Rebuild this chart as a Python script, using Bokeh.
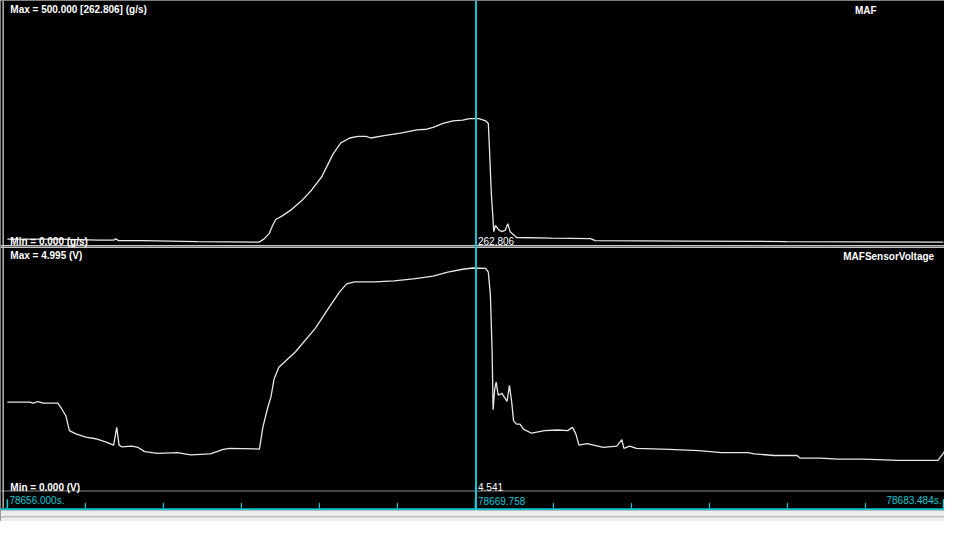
import numpy as np
from bokeh.plotting import figure
from bokeh.models import Range1d, Span, BoxAnnotation, Label
from bokeh.embed import file_html
from bokeh.resources import INLINE

# ---------------- data ----------------
T_START = 78656.000
T_END = 78683.484
T_CURSOR = 78669.758

MAF_MAX = 500.000
MAF_MIN = 0.000
MAF_AT_CURSOR = 262.806
VOLT_MAX = 4.995
VOLT_MIN = 0.000
VOLT_AT_CURSOR = 4.541

# elapsed seconds since T_START, and MAF values (g/s)
maf_elapsed = [0.00, 1.53, 2.68, 3.12, 3.18, 3.26, 3.98, 5.57, 7.39, 7.54,
               7.69, 7.79, 7.88, 8.08, 8.36, 8.65, 8.94, 9.23, 9.37, 9.56,
               9.79, 10.05, 10.29, 10.53, 10.67, 11.06, 11.54, 12.02, 12.31, 12.50,
               12.79, 13.08, 13.37, 13.56, 13.85, 14.04, 14.12, 14.15, 14.21, 14.26,
               14.28, 14.33, 14.43, 14.52, 14.62, 14.69, 14.76, 14.95, 15.97, 17.12,
               17.26, 20.01, 22.89, 27.48]
maf_gs = [8.2, 8.2, 6.1, 6.1, 9.2, 5.1, 5.1, 3.1, 2.0, 8.8,
          20.5, 37.5, 49.8, 58.0, 71.7, 90.2, 112.7, 140.0, 160.4, 187.9,
          211.7, 221.9, 225.4, 225.4, 221.9, 226.8, 232.2, 239.1, 240.4, 244.5,
          252.7, 258.2, 259.6, 262.9, 262.9, 258.2, 252.7, 204.9, 102.5, 47.7,
          24.0, 37.5, 27.3, 24.0, 27.3, 41.0, 24.0, 11.7, 10.2, 9.2,
          5.1, 4.1, 3.1, 2.0]

# elapsed seconds since T_START, and MAF sensor voltage (V)
volt_elapsed = [0.00, 0.66, 0.76, 0.90, 1.05, 1.48, 1.58, 1.72, 1.82, 2.01,
                2.30, 2.59, 2.88, 3.12, 3.21, 3.28, 3.36, 3.65, 3.84, 4.03,
                4.42, 4.99, 5.38, 5.96, 6.34, 6.53, 7.40, 7.50, 7.64, 7.74,
                7.83, 7.97, 8.46, 9.04, 9.47, 9.76, 9.96, 10.19, 10.77, 11.35,
                11.92, 12.50, 12.93, 13.37, 13.66, 14.04, 14.12, 14.18, 14.23, 14.26,
                14.31, 14.35, 14.41, 14.52, 14.67, 14.74, 14.81, 14.86, 14.95, 15.05,
                15.15, 15.39, 15.77, 16.16, 16.45, 16.59, 16.69, 16.78, 17.02, 17.50,
                17.89, 18.04, 18.10, 18.27, 18.47, 19.43, 20.30, 20.97, 21.74, 21.93,
                22.51, 23.18, 23.28, 23.86, 24.39, 25.11, 26.16, 27.32, 27.42, 27.51]
volt_v = [1.741, 1.741, 1.721, 1.755, 1.721, 1.721, 1.620, 1.452, 1.148, 1.079,
          1.012, 0.978, 0.911, 0.844, 1.215, 0.844, 0.810, 0.824, 0.796, 0.709,
          0.674, 0.688, 0.642, 0.662, 0.755, 0.775, 0.763, 1.215, 1.620, 1.857,
          2.227, 2.470, 2.794, 3.280, 3.746, 4.049, 4.211, 4.252, 4.252, 4.272,
          4.313, 4.373, 4.454, 4.515, 4.541, 4.535, 4.454, 3.983, 2.835, 1.585,
          2.025, 2.160, 1.889, 1.923, 1.755, 2.092, 1.721, 1.350, 1.282, 1.282,
          1.180, 1.093, 1.148, 1.160, 1.148, 1.215, 1.079, 0.844, 0.877, 0.796,
          0.824, 0.958, 0.775, 0.824, 0.775, 0.755, 0.729, 0.688, 0.688, 0.662,
          0.628, 0.628, 0.573, 0.573, 0.553, 0.553, 0.526, 0.526, 0.622, 0.709]

major_ticks = [78656.000, 78669.742, 78683.484]
minor_ticks = [78658.290, 78660.581, 78662.871, 78665.161, 78667.452,
               78672.032, 78674.323, 78676.613, 78678.903, 78681.194]

maf_title = "MAF"
volt_title = "MAFSensorVoltage"
maf_unit = "g/s"
volt_unit = "V"

# ---------------- layout (reference pixel grid 960 x 537) ----------------
W, H = 944, 521
REF_W, REF_H = 960.0, 537.0
CYAN = "#16c6d2"
TRACE = "#e8e8e8"
FONT = "Liberation Sans"


def range_for(v_low, v_high, y_low, y_high):
    """Value range so that v_low sits at ref-pixel y_low and v_high at y_high."""
    k = (v_high - v_low) / (y_low - y_high)
    return Range1d(v_low - (REF_H - y_low) * k, v_low + y_low * k)


# time axis: T_START at ref x=7, T_END at ref x=959
kx = (T_END - T_START) / (959.0 - 7.0)
x_time = Range1d(T_START - 7.0 * kx, T_START + (REF_W - 7.0) * kx)

p = figure(width=W, height=H, output_backend="svg", toolbar_location=None,
           x_range=x_time, y_range=Range1d(REF_H, 0),
           x_axis_type=None, y_axis_type=None, min_border=0,
           background_fill_color="black", border_fill_color="black",
           outline_line_color=None)
p.extra_x_ranges = {"px": Range1d(0, REF_W)}
p.extra_y_ranges = {"maf": range_for(0.0, MAF_MAX, 250.0, 6.0),
                    "volt": range_for(0.0, VOLT_MAX, 500.0, 253.3)}

maf_t = np.array(maf_elapsed) + T_START
volt_t = np.array(volt_elapsed) + T_START

p.line(maf_t, maf_gs, y_range_name="maf", line_color=TRACE, line_width=1.3)
p.line(volt_t, volt_v, y_range_name="volt", line_color=TRACE, line_width=1.3)

# panel separators
p.add_layout(BoxAnnotation(top=252, bottom=255, fill_color="#c4c4c4", fill_alpha=1, line_color=None))
p.add_layout(BoxAnnotation(top=253, bottom=254, fill_color="#6a6a6a", fill_alpha=1, line_color=None))
p.add_layout(BoxAnnotation(top=505, bottom=506, fill_color="#8c8c8c", fill_alpha=1, line_color=None))
p.add_layout(BoxAnnotation(left=2, right=3.4, top=0, bottom=523, x_range_name="px",
                           fill_color="#c8c8c8", fill_alpha=1, line_color=None))

# cursor
p.add_layout(Span(location=T_CURSOR, dimension="height", line_color=CYAN, line_width=2))

# time strip ticks
p.segment(x0=minor_ticks, x1=minor_ticks, y0=[523.5] * len(minor_ticks), y1=[518] * len(minor_ticks),
          line_color=CYAN, line_width=1.2)
p.segment(x0=major_ticks, x1=major_ticks, y0=[523.5] * len(major_ticks), y1=[514] * len(major_ticks),
          line_color=CYAN, line_width=1.6)

# bottom window chrome
p.add_layout(BoxAnnotation(top=523.3, bottom=525.3, fill_color=CYAN, fill_alpha=1, line_color=None))
p.add_layout(BoxAnnotation(top=525.3, bottom=REF_H, fill_color="#ececec", fill_alpha=1, line_color=None))
p.add_layout(BoxAnnotation(top=531.5, bottom=532.6, fill_color="#a8a8a8", fill_alpha=1, line_color=None))


def label(x, y, text, color="white", bold=True, align="left", xname="px", xoff=0):
    p.add_layout(Label(x=x, y=y, text=text, x_range_name=xname, x_offset=xoff,
                       text_color=color, text_font=FONT, text_font_size="10px",
                       text_font_style="bold" if bold else "normal",
                       text_align=align, text_baseline="alphabetic"))


label(10, 9.5, f"Max = {MAF_MAX:.3f} [{MAF_AT_CURSOR:.3f}] ({maf_unit})")
label(869, 10, maf_title)
label(10, 248.3, f"Min = {MAF_MIN:.3f} ({maf_unit})")
label(10, 263.3, f"Max = {VOLT_MAX:.3f} ({volt_unit})")
label(857, 264, volt_title)
label(10, 501.7, f"Min = {VOLT_MIN:.3f} ({volt_unit})")

label(T_CURSOR, 248.3, f"{MAF_AT_CURSOR:.3f}", bold=False, xname="default", xoff=2)
label(T_CURSOR, 501.7, f"{VOLT_AT_CURSOR:.3f}", bold=False, xname="default", xoff=2)

label(T_START, 515.7, f"{T_START:.3f}s.", color=CYAN, bold=False, xname="default", xoff=2)
label(T_CURSOR, 515.7, f"{T_CURSOR:.3f}", color=CYAN, bold=False, xname="default", xoff=2)
label(T_END, 515.7, f"{T_END:.3f}s.", color=CYAN, bold=False, align="right", xname="default", xoff=-2)

open("out.html", "w").write(file_html(p, INLINE))
